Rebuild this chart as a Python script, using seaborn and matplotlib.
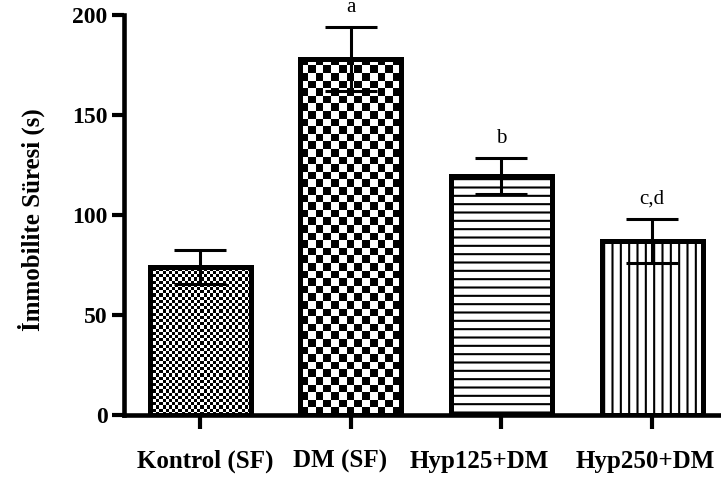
import numpy as np
import pandas as pd
import matplotlib
matplotlib.use('Agg')
import matplotlib.pyplot as plt
import matplotlib.transforms as mtransforms
import seaborn as sns

# ---- data ----
groups = ['Kontrol (SF)', 'DM (SF)', 'Hyp125+DM', 'Hyp250+DM']
means = [74, 178, 119.5, 87]
sems = [8.5, 16, 9, 11]
letters = ['', 'a', 'b', 'c,d']
yticks = [0, 50, 100, 150, 200]
ylabel = 'İmmobilite Süresi (s)'

# ---- style ----
sns.set_style('ticks')
plt.rcParams['font.family'] = ['Liberation Serif', 'DejaVu Serif']
plt.rcParams['hatch.linewidth'] = 1.5
plt.rcParams['hatch.color'] = 'black'

fig = plt.figure(figsize=(7.21, 4.84), dpi=100)
fig.patch.set_facecolor('white')
ax = fig.add_axes([0.1713, 0.1426, 0.8287, 0.8264])

df = pd.DataFrame({'group': groups, 'value': means})
sns.barplot(data=df, x='group', y='value', order=groups, ax=ax, width=0.67,
            color='white', edgecolor='black', linewidth=3.6, errorbar=None,
            saturation=1)

ax.set_xlim(-0.508, 3.457)
ax.set_ylim(0, 200)

patches = list(ax.patches)


def checker_fill(patch, cell_px):
    x0 = patch.get_x()
    w = patch.get_width()
    h = patch.get_height()
    p0 = ax.transData.transform((x0, 0))
    p1 = ax.transData.transform((x0 + w, h))
    wpx = p1[0] - p0[0]
    hpx = p1[1] - p0[1]
    nx = int(round(wpx / cell_px))
    ny = int(np.ceil(hpx / cell_px)) + 1
    arr = np.add.outer(np.arange(ny), np.arange(nx)) % 2
    top = ny * cell_px * h / hpx
    im = ax.imshow(arr, cmap='gray', vmin=0, vmax=1, extent=[x0, x0 + w, 0, top],
                   origin='lower', aspect='auto', interpolation='nearest',
                   zorder=patch.get_zorder() - 0.1)
    im.set_clip_path(patch)
    patch.set_facecolor('none')


checker_fill(patches[0], 3.2)
checker_fill(patches[1], 7.6)
patches[2].set_hatch('--')
patches[3].set_hatch('||')

ax.set_xlim(-0.508, 3.457)
ax.set_ylim(0, 200)

ax.errorbar(np.arange(len(groups)), means, yerr=sems, fmt='none', ecolor='black',
            elinewidth=2.2, capsize=19, capthick=2.2, zorder=6)

for i, (m, s, l) in enumerate(zip(means, sems, letters)):
    if l:
        ax.annotate(l, xy=(i, m + s), xytext=(0, 11), textcoords='offset points',
                    ha='center', va='baseline', fontsize=15, color='black',
                    annotation_clip=False)

sns.despine(ax=ax)
for side in ['left', 'bottom']:
    ax.spines[side].set_linewidth(3.3)
    ax.spines[side].set_color('black')

ax.set_yticks(yticks)
ax.set_yticklabels([str(t) for t in yticks])
ax.tick_params(axis='y', length=8.6, width=3, direction='out', labelsize=17,
               pad=3, colors='black')
ax.tick_params(axis='x', length=10, width=3, direction='out', labelsize=18,
               pad=15, colors='black')
for lbl in ax.get_yticklabels():
    lbl.set_fontweight('bold')

offsets_px = [5, -11, -22, -7]
for lbl, dx in zip(ax.get_xticklabels(), offsets_px):
    lbl.set_fontweight('bold')
    lbl.set_transform(lbl.get_transform() +
                      mtransforms.ScaledTranslation(dx / 100, 0, fig.dpi_scale_trans))

ax.set_xlabel('')
ax.set_ylabel(ylabel, fontsize=18, fontweight='bold', color='black')
ax.yaxis.set_label_coords(-0.131, 0.4875)

fig.savefig('out.png', dpi=100, facecolor='white')
